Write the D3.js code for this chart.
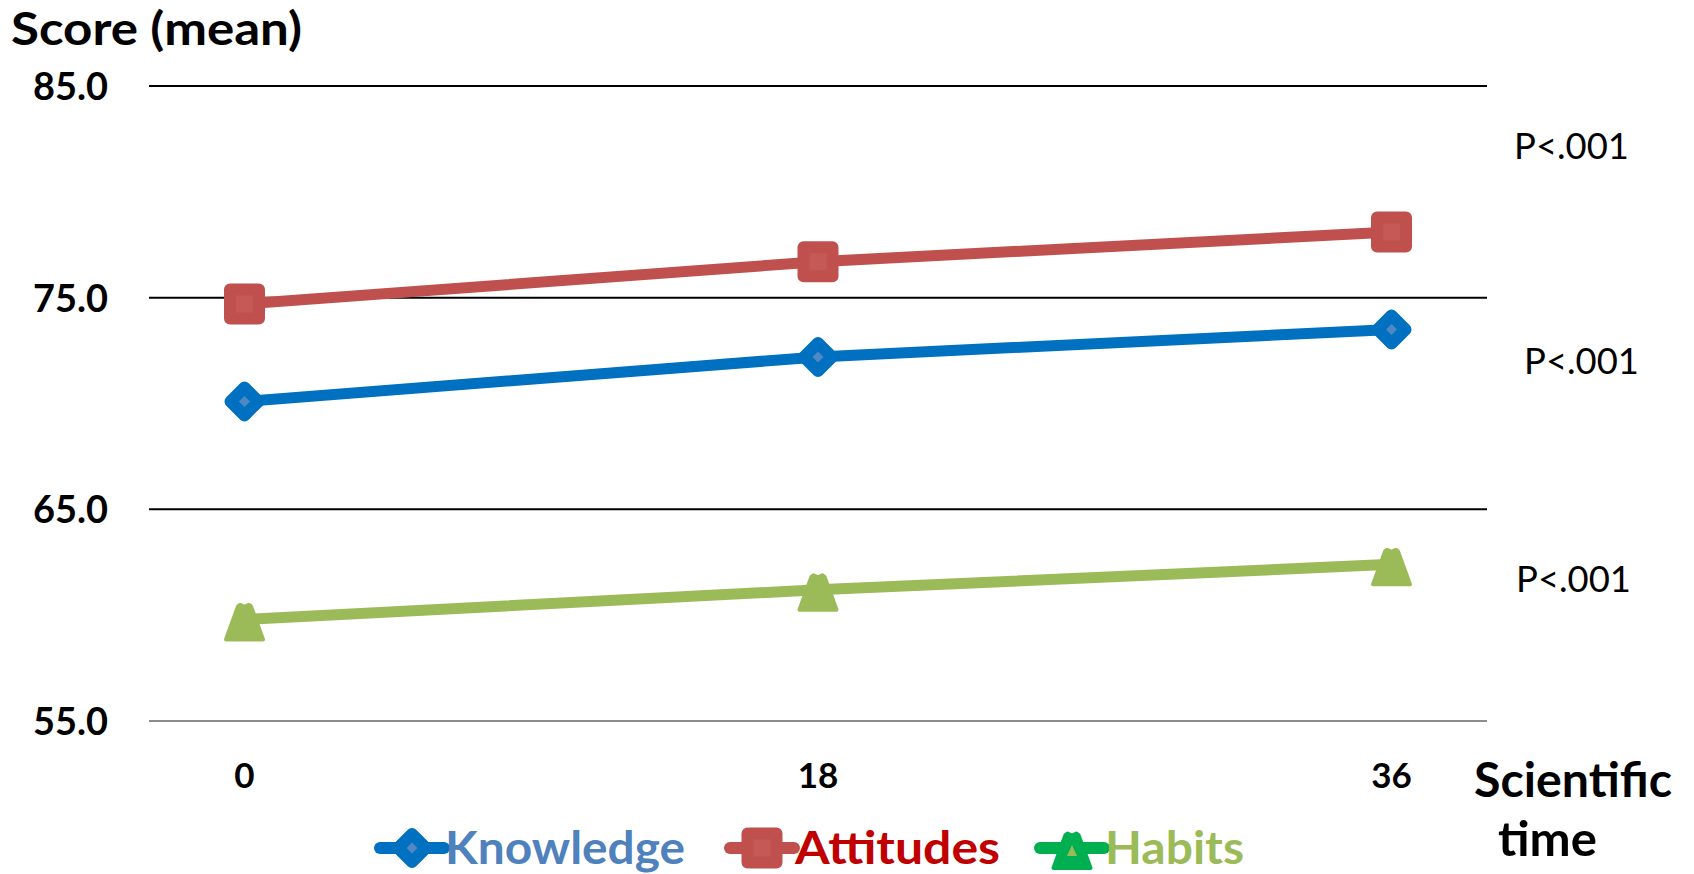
<!DOCTYPE html>
<html>
<head>
<meta charset="utf-8">
<script src="https://cdn.jsdelivr.net/npm/d3@7"></script>
<style>
  html, body { margin: 0; padding: 0; background: #fff; }
  svg { display: block; }
  text { font-family: Lato, "Open Sans", sans-serif; }
</style>
</head>
<body>
<svg id="chart" width="1694" height="874"></svg>
<script>
// Mean scores at each follow-up point
const timepoints = ["0", "18", "36"];
const knowledge = [70.1, 72.2, 73.5];
const attitudes = [74.7, 76.7, 78.1];
const habits = [59.8, 61.2, 62.4];
const yTicks = [55, 65, 75, 85];
const seriesNames = ["Knowledge", "Attitudes", "Habits"];
const pLabels = ["P<.001", "P<.001", "P<.001"];

const svg = d3.select("#chart");

const x = d3.scalePoint().domain(timepoints).range([149, 1487]).padding(0.1665);
const y = d3.scaleLinear().domain([55, 85]).range([721, 86]);

// Horizontal gridlines; the bottom one is the category axis
svg.append("g").selectAll("line").data(yTicks).join("line")
  .attr("x1", 149).attr("x2", 1487)
  .attr("y1", d => y(d)).attr("y2", d => y(d))
  .attr("stroke", d => d === 55 ? "#8c8c8c" : "#000")
  .attr("stroke-width", 2);

// Y tick labels
svg.append("g").selectAll("text").data(yTicks).join("text")
  .attr("x", 108).attr("y", d => y(d) + 14)
  .attr("text-anchor", "end")
  .attr("font-size", 39).attr("font-weight", 700)
  .attr("textLength", 75).attr("lengthAdjust", "spacingAndGlyphs")
  .text(d => d.toFixed(1));

// X tick labels
svg.append("g").selectAll("text").data(timepoints).join("text")
  .attr("x", d => x(d)).attr("y", 788)
  .attr("text-anchor", "middle")
  .attr("font-size", 35).attr("font-weight", 700)
  .text(d => d);

// Axis titles
svg.append("text").attr("x", 11).attr("y", 45)
  .attr("font-size", 45).attr("font-weight", 700)
  .attr("textLength", 291).attr("lengthAdjust", "spacingAndGlyphs")
  .text("Score (mean)");
svg.append("text").attr("x", 1474).attr("y", 797)
  .attr("font-size", 47).attr("font-weight", 700)
  .attr("textLength", 198).attr("lengthAdjust", "spacingAndGlyphs")
  .text("Scientific");
svg.append("text").attr("x", 1498).attr("y", 856)
  .attr("font-size", 47).attr("font-weight", 700)
  .attr("textLength", 99).attr("lengthAdjust", "spacingAndGlyphs")
  .text("time");

// Marker shapes
function diamond(g, stroke, fill) {
  g.append("path").attr("d", "M0,-14L14,0L0,14L-14,0Z")
    .attr("fill", fill).attr("stroke", stroke)
    .attr("stroke-width", 12).attr("stroke-linejoin", "round");
}
function square(g, stroke, fill) {
  g.append("rect").attr("x", -14.5).attr("y", -14.5).attr("width", 29).attr("height", 29)
    .attr("fill", fill).attr("stroke", stroke)
    .attr("stroke-width", 12).attr("stroke-linejoin", "round");
}
function triangle(g, outer, inner) {
  g.append("path")
    .attr("d", "M-6.5,-13L-4.5,-14.5L0,-12.5L4.5,-14.5L6.5,-13L18.5,20L-18.5,20Z")
    .attr("fill", outer).attr("stroke", outer)
    .attr("stroke-width", 4).attr("stroke-linejoin", "round");
  if (inner) {
    g.append("path").attr("d", "M0,-3L5,8L-5,8Z").attr("fill", inner);
  }
}

const series = [
  { name: seriesNames[0], values: knowledge, color: "#0070C0",
    marker: g => diamond(g, "#0070C0", "#5088C4") },
  { name: seriesNames[1], values: attitudes, color: "#C0504D",
    marker: g => square(g, "#C0504D", "#C45956") },
  { name: seriesNames[2], values: habits, color: "#9BBB59",
    marker: g => triangle(g, "#9BBB59", null) }
];

const line = d3.line().x((d, i) => x(timepoints[i])).y(d => y(d));

series.forEach(s => {
  svg.append("path").datum(s.values)
    .attr("d", line).attr("fill", "none")
    .attr("stroke", s.color).attr("stroke-width", 11);
  s.values.forEach((v, i) => {
    const g = svg.append("g")
      .attr("transform", `translate(${x(timepoints[i])},${y(v)})`);
    s.marker(g);
  });
});

// Significance annotations beside each series
const pPos = [[1514, 159], [1524, 374], [1516, 592]];
svg.append("g").selectAll("text").data(pLabels).join("text")
  .attr("x", (d, i) => pPos[i][0]).attr("y", (d, i) => pPos[i][1])
  .attr("font-size", 37).attr("font-weight", 400)
  .attr("textLength", 115).attr("lengthAdjust", "spacingAndGlyphs")
  .text(d => d);

// Legend
const legendItems = [
  { name: seriesNames[0], cx: 412, line: "#0070C0", text: "#4F81BD", w: 240,
    marker: g => diamond(g, "#0070C0", "#5088C4") },
  { name: seriesNames[1], cx: 762, line: "#C0504D", text: "#C00000", w: 205,
    marker: g => square(g, "#C0504D", "#C45956") },
  { name: seriesNames[2], cx: 1072, line: "#00B050", text: "#9BBB59", w: 139,
    marker: g => triangle(g, "#00B050", "#9BBB59") }
];
const legend = svg.append("g");
legendItems.forEach(it => {
  const g = legend.append("g").attr("transform", `translate(${it.cx},848)`);
  g.append("line").attr("x1", -32).attr("x2", 32)
    .attr("stroke", it.line).attr("stroke-width", 12).attr("stroke-linecap", "round");
  it.marker(g);
  legend.append("text").attr("x", it.cx + 33).attr("y", 864)
    .attr("font-size", 46).attr("font-weight", 700)
    .attr("fill", it.text)
    .attr("textLength", it.w).attr("lengthAdjust", "spacingAndGlyphs")
    .text(it.name);
});
</script>
</body>
</html>
